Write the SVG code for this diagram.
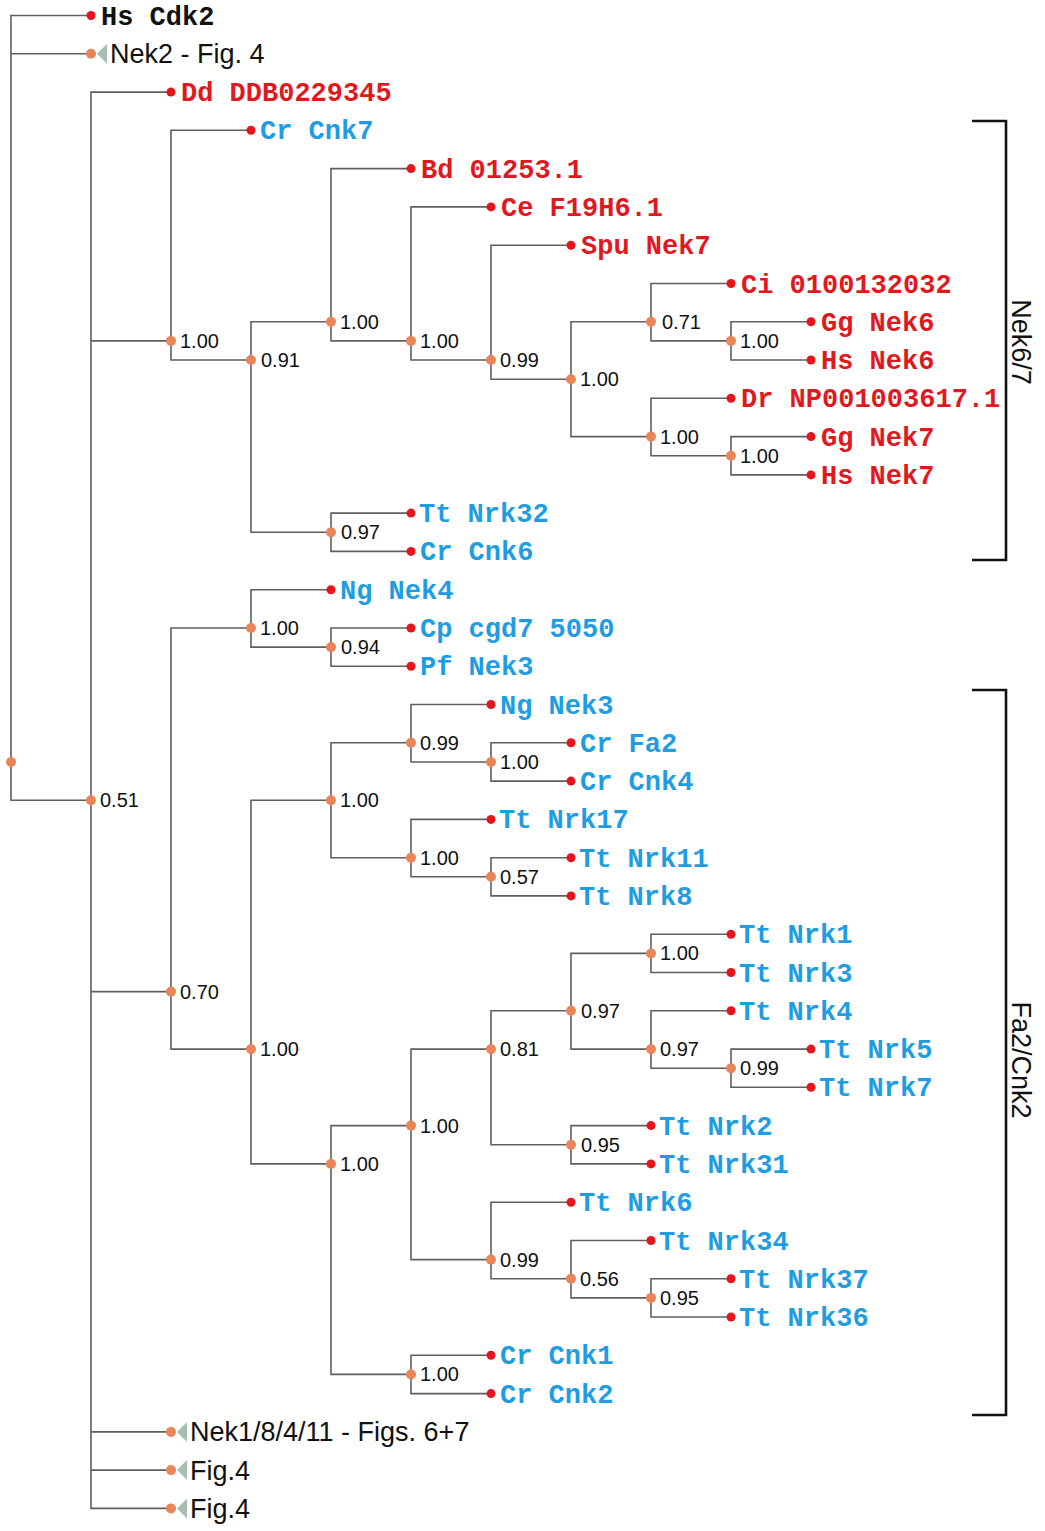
<svg xmlns="http://www.w3.org/2000/svg" width="1045" height="1531" viewBox="0 0 1045 1531">
<style>
.e{fill:none;stroke:#5f5f5f;stroke-width:1.6}
.lf{fill:#e8141c}
.in{fill:#e8865a}
.tri{fill:#a9bfad}
.t{font-family:"Liberation Mono","Courier New",monospace;font-weight:bold;font-size:27px}
.r{fill:#e0191e}
.b{fill:#1e9de3}
.k{fill:#111}
.s{font-family:"Liberation Sans",Arial,sans-serif;font-size:20px;fill:#111}
.c{font-family:"Liberation Sans",Arial,sans-serif;font-size:27px;fill:#111}
.br{fill:none;stroke:#111;stroke-width:2.6}
</style>
<rect width="1045" height="1531" fill="#fff"/>
<g id="connectors">
<path class="e" d="M91,15.5 H11 V800.2 H91 M11,53.8 H91"/>
<path class="e" d="M171,92.1 H91 V1508.4 H171 M91,340.9 H171 M91,991.6 H171 M91,1431.9 H171 M91,1470.1 H171"/>
<path class="e" d="M251,130.3 H171 V360 H251"/>
<path class="e" d="M331,321.7 H251 V532.3 H331"/>
<path class="e" d="M411,168.6 H331 V340.9 H411"/>
<path class="e" d="M491,206.9 H411 V360 H491"/>
<path class="e" d="M571,245.2 H491 V379.2 H571"/>
<path class="e" d="M651,321.7 H571 V436.6 H651"/>
<path class="e" d="M731,283.5 H651 V340.9 H731"/>
<path class="e" d="M811,321.7 H731 V360 H811"/>
<path class="e" d="M731,398.3 H651 V455.7 H731"/>
<path class="e" d="M811,436.6 H731 V474.9 H811"/>
<path class="e" d="M411,513.1 H331 V551.4 H411"/>
<path class="e" d="M251,628 H171 V1049.1 H251"/>
<path class="e" d="M331,589.7 H251 V647.1 H331"/>
<path class="e" d="M411,628 H331 V666.3 H411"/>
<path class="e" d="M331,800.2 H251 V1163.9 H331"/>
<path class="e" d="M411,742.8 H331 V857.7 H411"/>
<path class="e" d="M491,704.5 H411 V762 H491"/>
<path class="e" d="M571,742.8 H491 V781.1 H571"/>
<path class="e" d="M491,819.4 H411 V876.8 H491"/>
<path class="e" d="M571,857.7 H491 V895.9 H571"/>
<path class="e" d="M411,1125.6 H331 V1374.4 H411"/>
<path class="e" d="M491,1049.1 H411 V1259.6 H491"/>
<path class="e" d="M571,1010.8 H491 V1144.8 H571"/>
<path class="e" d="M651,953.4 H571 V1049.1 H651"/>
<path class="e" d="M731,934.2 H651 V972.5 H731"/>
<path class="e" d="M731,1010.8 H651 V1068.2 H731"/>
<path class="e" d="M811,1049.1 H731 V1087.3 H811"/>
<path class="e" d="M651,1125.6 H571 V1163.9 H651"/>
<path class="e" d="M571,1202.2 H491 V1278.7 H571"/>
<path class="e" d="M651,1240.5 H571 V1297.9 H651"/>
<path class="e" d="M731,1278.7 H651 V1317 H731"/>
<path class="e" d="M491,1355.3 H411 V1393.6 H491"/>
</g>
<g id="internal-nodes">
<g id="n-root"><circle class="in" cx="11" cy="762" r="5"/></g>
<g id="n-A"><circle class="in" cx="91" cy="800.2" r="5"/><text class="s" x="100" y="807.2">0.51</text></g>
<g id="n-B"><circle class="in" cx="171" cy="340.9" r="5"/><text class="s" x="180" y="347.9">1.00</text></g>
<g id="n-D"><circle class="in" cx="251" cy="360" r="5"/><text class="s" x="261" y="367">0.91</text></g>
<g id="n-E"><circle class="in" cx="331" cy="321.7" r="5"/><text class="s" x="340" y="328.7">1.00</text></g>
<g id="n-G"><circle class="in" cx="411" cy="340.9" r="5"/><text class="s" x="420" y="347.9">1.00</text></g>
<g id="n-H"><circle class="in" cx="491" cy="360" r="5"/><text class="s" x="500" y="367">0.99</text></g>
<g id="n-I"><circle class="in" cx="571" cy="379.2" r="5"/><text class="s" x="580" y="386.2">1.00</text></g>
<g id="n-J"><circle class="in" cx="651" cy="321.7" r="5"/><text class="s" x="662" y="328.7">0.71</text></g>
<g id="n-L"><circle class="in" cx="731" cy="340.9" r="5"/><text class="s" x="740" y="347.9">1.00</text></g>
<g id="n-K"><circle class="in" cx="651" cy="436.6" r="5"/><text class="s" x="660" y="443.6">1.00</text></g>
<g id="n-M"><circle class="in" cx="731" cy="455.7" r="5"/><text class="s" x="740" y="462.7">1.00</text></g>
<g id="n-F"><circle class="in" cx="331" cy="532.3" r="5"/><text class="s" x="341" y="539.3">0.97</text></g>
<g id="n-C"><circle class="in" cx="171" cy="991.6" r="5"/><text class="s" x="180" y="998.6">0.70</text></g>
<g id="n-N"><circle class="in" cx="251" cy="628" r="5"/><text class="s" x="260" y="635">1.00</text></g>
<g id="n-P"><circle class="in" cx="331" cy="647.1" r="5"/><text class="s" x="341" y="654.1">0.94</text></g>
<g id="n-O"><circle class="in" cx="251" cy="1049.1" r="5"/><text class="s" x="260" y="1056.1">1.00</text></g>
<g id="n-Q"><circle class="in" cx="331" cy="800.2" r="5"/><text class="s" x="340" y="807.2">1.00</text></g>
<g id="n-S"><circle class="in" cx="411" cy="742.8" r="5"/><text class="s" x="420" y="749.8">0.99</text></g>
<g id="n-U"><circle class="in" cx="491" cy="762" r="5"/><text class="s" x="500" y="769">1.00</text></g>
<g id="n-T"><circle class="in" cx="411" cy="857.7" r="5"/><text class="s" x="420" y="864.7">1.00</text></g>
<g id="n-V"><circle class="in" cx="491" cy="876.8" r="5"/><text class="s" x="500" y="883.8">0.57</text></g>
<g id="n-R"><circle class="in" cx="331" cy="1163.9" r="5"/><text class="s" x="340" y="1170.9">1.00</text></g>
<g id="n-W"><circle class="in" cx="411" cy="1125.6" r="5"/><text class="s" x="420" y="1132.6">1.00</text></g>
<g id="n-Y"><circle class="in" cx="491" cy="1049.1" r="5"/><text class="s" x="500" y="1056.1">0.81</text></g>
<g id="n-AA"><circle class="in" cx="571" cy="1010.8" r="5"/><text class="s" x="581" y="1017.8">0.97</text></g>
<g id="n-AC"><circle class="in" cx="651" cy="953.4" r="5"/><text class="s" x="660" y="960.4">1.00</text></g>
<g id="n-AD"><circle class="in" cx="651" cy="1049.1" r="5"/><text class="s" x="660" y="1056.1">0.97</text></g>
<g id="n-AE"><circle class="in" cx="731" cy="1068.2" r="5"/><text class="s" x="740" y="1075.2">0.99</text></g>
<g id="n-AB"><circle class="in" cx="571" cy="1144.8" r="5"/><text class="s" x="581" y="1151.8">0.95</text></g>
<g id="n-Z"><circle class="in" cx="491" cy="1259.6" r="5"/><text class="s" x="500" y="1266.6">0.99</text></g>
<g id="n-AF"><circle class="in" cx="571" cy="1278.7" r="5"/><text class="s" x="580" y="1285.7">0.56</text></g>
<g id="n-AG"><circle class="in" cx="651" cy="1297.9" r="5"/><text class="s" x="660" y="1304.9">0.95</text></g>
<g id="n-X"><circle class="in" cx="411" cy="1374.4" r="5"/><text class="s" x="420" y="1381.4">1.00</text></g>
</g>
<g id="leaves">
<g id="l-HsCdk2"><circle class="lf" cx="91" cy="15.5" r="4.5"/><text class="t k" x="101" y="24.5">Hs Cdk2</text></g>
<g id="l-Nek2"><circle class="in" cx="91" cy="53.8" r="5"/><polygon class="tri" points="97,53.8 107,43.8 107,63.8"/><text class="c" x="110" y="63.3">Nek2 - Fig. 4</text></g>
<g id="l-Dd"><circle class="lf" cx="171" cy="92.1" r="4.5"/><text class="t r" x="181" y="101.1">Dd DDB0229345</text></g>
<g id="l-CrCnk7"><circle class="lf" cx="251" cy="130.3" r="4.5"/><text class="t b" x="260" y="139.3">Cr Cnk7</text></g>
<g id="l-Bd"><circle class="lf" cx="411" cy="168.6" r="4.5"/><text class="t r" x="421" y="177.6">Bd 01253.1</text></g>
<g id="l-Ce"><circle class="lf" cx="491" cy="206.9" r="4.5"/><text class="t r" x="501" y="215.9">Ce F19H6.1</text></g>
<g id="l-Spu"><circle class="lf" cx="571" cy="245.2" r="4.5"/><text class="t r" x="581" y="254.2">Spu Nek7</text></g>
<g id="l-Ci"><circle class="lf" cx="731" cy="283.5" r="4.5"/><text class="t r" x="741" y="292.5">Ci 0100132032</text></g>
<g id="l-GgNek6"><circle class="lf" cx="811" cy="321.7" r="4.5"/><text class="t r" x="821" y="330.7">Gg Nek6</text></g>
<g id="l-HsNek6"><circle class="lf" cx="811" cy="360" r="4.5"/><text class="t r" x="821" y="369">Hs Nek6</text></g>
<g id="l-Dr"><circle class="lf" cx="731" cy="398.3" r="4.5"/><text class="t r" x="741" y="407.3">Dr NP001003617.1</text></g>
<g id="l-GgNek7"><circle class="lf" cx="811" cy="436.6" r="4.5"/><text class="t r" x="821" y="445.6">Gg Nek7</text></g>
<g id="l-HsNek7"><circle class="lf" cx="811" cy="474.9" r="4.5"/><text class="t r" x="821" y="483.9">Hs Nek7</text></g>
<g id="l-TtNrk32"><circle class="lf" cx="411" cy="513.1" r="4.5"/><text class="t b" x="419" y="522.1">Tt Nrk32</text></g>
<g id="l-CrCnk6"><circle class="lf" cx="411" cy="551.4" r="4.5"/><text class="t b" x="420" y="560.4">Cr Cnk6</text></g>
<g id="l-NgNek4"><circle class="lf" cx="331" cy="589.7" r="4.5"/><text class="t b" x="340" y="598.7">Ng Nek4</text></g>
<g id="l-Cp"><circle class="lf" cx="411" cy="628" r="4.5"/><text class="t b" x="420" y="637">Cp cgd7 5050</text></g>
<g id="l-PfNek3"><circle class="lf" cx="411" cy="666.3" r="4.5"/><text class="t b" x="420" y="675.3">Pf Nek3</text></g>
<g id="l-NgNek3"><circle class="lf" cx="491" cy="704.5" r="4.5"/><text class="t b" x="500" y="713.5">Ng Nek3</text></g>
<g id="l-CrFa2"><circle class="lf" cx="571" cy="742.8" r="4.5"/><text class="t b" x="580" y="751.8">Cr Fa2</text></g>
<g id="l-CrCnk4"><circle class="lf" cx="571" cy="781.1" r="4.5"/><text class="t b" x="580" y="790.1">Cr Cnk4</text></g>
<g id="l-TtNrk17"><circle class="lf" cx="491" cy="819.4" r="4.5"/><text class="t b" x="499" y="828.4">Tt Nrk17</text></g>
<g id="l-TtNrk11"><circle class="lf" cx="571" cy="857.7" r="4.5"/><text class="t b" x="579" y="866.7">Tt Nrk11</text></g>
<g id="l-TtNrk8"><circle class="lf" cx="571" cy="895.9" r="4.5"/><text class="t b" x="579" y="904.9">Tt Nrk8</text></g>
<g id="l-TtNrk1"><circle class="lf" cx="731" cy="934.2" r="4.5"/><text class="t b" x="739" y="943.2">Tt Nrk1</text></g>
<g id="l-TtNrk3"><circle class="lf" cx="731" cy="972.5" r="4.5"/><text class="t b" x="739" y="981.5">Tt Nrk3</text></g>
<g id="l-TtNrk4"><circle class="lf" cx="731" cy="1010.8" r="4.5"/><text class="t b" x="739" y="1019.8">Tt Nrk4</text></g>
<g id="l-TtNrk5"><circle class="lf" cx="811" cy="1049.1" r="4.5"/><text class="t b" x="819" y="1058.1">Tt Nrk5</text></g>
<g id="l-TtNrk7"><circle class="lf" cx="811" cy="1087.3" r="4.5"/><text class="t b" x="819" y="1096.3">Tt Nrk7</text></g>
<g id="l-TtNrk2"><circle class="lf" cx="651" cy="1125.6" r="4.5"/><text class="t b" x="659" y="1134.6">Tt Nrk2</text></g>
<g id="l-TtNrk31"><circle class="lf" cx="651" cy="1163.9" r="4.5"/><text class="t b" x="659" y="1172.9">Tt Nrk31</text></g>
<g id="l-TtNrk6"><circle class="lf" cx="571" cy="1202.2" r="4.5"/><text class="t b" x="579" y="1211.2">Tt Nrk6</text></g>
<g id="l-TtNrk34"><circle class="lf" cx="651" cy="1240.5" r="4.5"/><text class="t b" x="659" y="1249.5">Tt Nrk34</text></g>
<g id="l-TtNrk37"><circle class="lf" cx="731" cy="1278.7" r="4.5"/><text class="t b" x="739" y="1287.7">Tt Nrk37</text></g>
<g id="l-TtNrk36"><circle class="lf" cx="731" cy="1317" r="4.5"/><text class="t b" x="739" y="1326">Tt Nrk36</text></g>
<g id="l-CrCnk1"><circle class="lf" cx="491" cy="1355.3" r="4.5"/><text class="t b" x="500" y="1364.3">Cr Cnk1</text></g>
<g id="l-CrCnk2"><circle class="lf" cx="491" cy="1393.6" r="4.5"/><text class="t b" x="500" y="1402.6">Cr Cnk2</text></g>
<g id="l-Nek1"><circle class="in" cx="171" cy="1431.9" r="5"/><polygon class="tri" points="177,1431.9 187,1421.9 187,1441.9"/><text class="c" x="190" y="1441.4">Nek1/8/4/11 - Figs. 6+7</text></g>
<g id="l-Fig4a"><circle class="in" cx="171" cy="1470.1" r="5"/><polygon class="tri" points="177,1470.1 187,1460.1 187,1480.1"/><text class="c" x="190" y="1479.6">Fig.4</text></g>
<g id="l-Fig4b"><circle class="in" cx="171" cy="1508.4" r="5"/><polygon class="tri" points="177,1508.4 187,1498.4 187,1518.4"/><text class="c" x="190" y="1517.9">Fig.4</text></g>
</g>
<g id="clade-Nek67">
<path class="br" d="M972,121 H1006 V560 H972"/>
<text class="c" transform="translate(1012,342) rotate(90)" text-anchor="middle">Nek6/7</text>
</g>
<g id="clade-Fa2Cnk2">
<path class="br" d="M972,690 H1006 V1415 H972"/>
<text class="c" transform="translate(1012,1060) rotate(90)" text-anchor="middle">Fa2/Cnk2</text>
</g>
</svg>
